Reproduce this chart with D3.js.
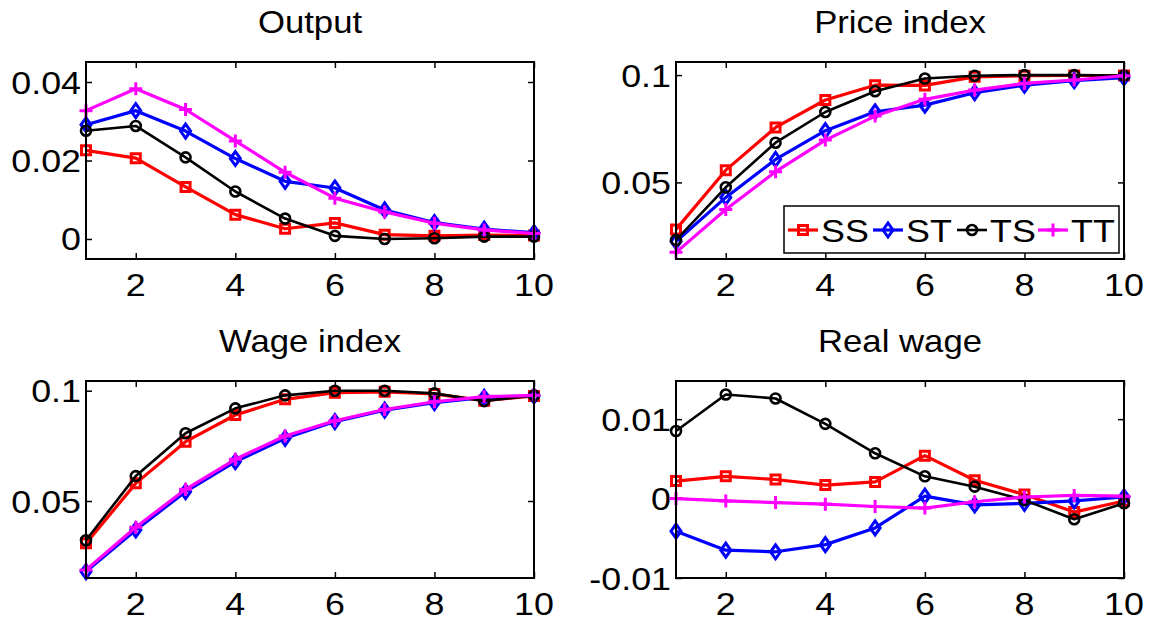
<!DOCTYPE html>
<html>
<head>
<meta charset="utf-8">
<script src="https://cdn.jsdelivr.net/npm/d3@7"></script>
<style>
  html, body { margin: 0; padding: 0; background: #fff; }
  svg { display: block; }
  text { font-family: "Liberation Sans", Arial, sans-serif; fill: #000; }
</style>
</head>
<body>
<svg id="chart" width="1155" height="621"></svg>
<script>
// ---------------- data ----------------
const steps = [1, 2, 3, 4, 5, 6, 7, 8, 9, 10];
const seriesNames = ["SS", "ST", "TS", "TT"];
const xTicks = [2, 4, 6, 8, 10];

const outputSS = [0.0226, 0.0206, 0.01325, 0.0062, 0.0026, 0.0041, 0.0011, 0.0008, 0.0010, 0.0009];
const outputST = [0.0291, 0.0327, 0.0275, 0.0205, 0.0147, 0.0130, 0.0074, 0.0042, 0.0025, 0.0016];
const outputTS = [0.0276, 0.0288, 0.0208, 0.0121, 0.0052, 0.0008, 0.0000, 0.0002, 0.0006, 0.0006];
const outputTT = [0.0327, 0.0383, 0.0330, 0.0250, 0.0170, 0.0104, 0.0069, 0.0040, 0.0023, 0.0014];
const outputTicks = [0, 0.02, 0.04];
const outputTickLabels = ["0", "0.02", "0.04"];

const priceSS = [0.0281, 0.0557, 0.0756, 0.0884, 0.0953, 0.0952, 0.0992, 0.0997, 0.0998, 0.0998];
const priceST = [0.0224, 0.0430, 0.0607, 0.0741, 0.0829, 0.0860, 0.0918, 0.0953, 0.0974, 0.0988];
const priceTS = [0.0231, 0.0477, 0.0685, 0.0828, 0.0925, 0.0984, 0.0997, 0.1000, 0.1000, 0.0998];
const priceTT = [0.0174, 0.0374, 0.0550, 0.0697, 0.0809, 0.0887, 0.0930, 0.0961, 0.0977, 0.0997];
const priceTicks = [0.05, 0.1];
const priceTickLabels = ["0.05", "0.1"];

const wageSS = [0.0308, 0.0580, 0.0769, 0.0890, 0.0961, 0.0991, 0.0995, 0.0985, 0.0955, 0.0976];
const wageST = [0.0180, 0.0369, 0.0542, 0.0678, 0.0784, 0.0860, 0.0912, 0.0946, 0.0970, 0.0976];
const wageTS = [0.0322, 0.0613, 0.0807, 0.0920, 0.0979, 0.1000, 0.1000, 0.0988, 0.0953, 0.0979];
const wageTT = [0.0187, 0.0381, 0.0553, 0.0689, 0.0795, 0.0864, 0.0915, 0.0950, 0.0973, 0.0979];
const wageTicks = [0.05, 0.1];
const wageTickLabels = ["0.05", "0.1"];

const realSS = [0.0022, 0.0028, 0.0024, 0.0017, 0.0021, 0.0054, 0.0023, 0.0005, -0.0017, -0.0003];
const realST = [-0.0041, -0.0065, -0.0067, -0.0058, -0.0037, 0.0003, -0.0008, -0.0006, -0.0003, 0.0002];
const realTS = [0.0085, 0.0131, 0.0126, 0.0094, 0.0057, 0.0028, 0.0015, -0.0002, -0.0026, -0.0006];
const realTT = [0.0000, -0.0003, -0.0005, -0.0007, -0.0010, -0.0012, -0.0004, 0.0002, 0.0004, 0.0003];
const realTicks = [-0.01, 0, 0.01];
const realTickLabels = ["-0.01", "0", "0.01"];

// ---------------- styling / layout ----------------
const colors = { SS: "#ff0000", ST: "#0000ff", TS: "#000000", TT: "#ff00ff" };
const widths = { SS: 3.2, ST: 3.2, TS: 2.6, TT: 3.2 };
const TX = 1.12; // horizontal text stretch of the original figure

const panels = [
  { title: "Output",      series: [outputSS, outputST, outputTS, outputTT], domain: [-0.0051, 0.0451], ticks: outputTicks, labels: outputTickLabels, box: [86, 62, 534, 259] },
  { title: "Price index", series: [priceSS, priceST, priceTS, priceTT],     domain: [0.0143, 0.1061],  ticks: priceTicks,  labels: priceTickLabels,  box: [676, 62, 1124, 259], legend: true },
  { title: "Wage index",  series: [wageSS, wageST, wageTS, wageTT],         domain: [0.0151, 0.1044],  ticks: wageTicks,   labels: wageTickLabels,   box: [86, 381, 534, 578] },
  { title: "Real wage",   series: [realSS, realST, realTS, realTT],         domain: [-0.0100, 0.0148], ticks: realTicks,   labels: realTickLabels,   box: [676, 381, 1124, 578] }
];

const svg = d3.select("#chart");

function stretchedText(g, x, y, str, anchor, size) {
  return g.append("text")
    .attr("transform", `translate(${x},${y}) scale(${TX},1)`)
    .attr("text-anchor", anchor)
    .style("font-size", size + "px")
    .text(str);
}

function markerPath(name) {
  if (name === "SS") return "M-4.5,-4.5H4.5V4.5H-4.5Z";
  if (name === "ST") return "M0,-7L5,0L0,7L-5,0Z";
  if (name === "TS") return d3.symbol(d3.symbolCircle, Math.PI * 5 * 5)();
  return "M-6.5,0H6.5M0,-6.5V6.5";
}

panels.forEach(p => {
  const [x0, y0, x1, y1] = p.box;
  const x = d3.scaleLinear().domain([1, 10]).range([x0, x1]);
  const y = d3.scaleLinear().domain(p.domain).range([y1, y0]);
  const g = svg.append("g");

  // title
  stretchedText(g, (x0 + x1) / 2, y0 - 29, p.title, "middle", 31);

  // axes (bottom/left with labels, top/right mirrored ticks)
  const tickLen = 6;
  const bottom = d3.axisBottom(x).tickValues(xTicks).tickSize(-tickLen).tickFormat("");
  const top = d3.axisTop(x).tickValues(xTicks).tickSize(-tickLen).tickFormat("");
  const left = d3.axisLeft(y).tickValues(p.ticks).tickSize(-tickLen).tickFormat("");
  const right = d3.axisRight(y).tickValues(p.ticks).tickSize(-tickLen).tickFormat("");
  [[bottom, `translate(0,${y1})`], [top, `translate(0,${y0})`], [left, `translate(${x0},0)`], [right, `translate(${x1},0)`]]
    .forEach(([ax, tr]) => {
      const a = g.append("g").attr("transform", tr).call(ax);
      a.select(".domain").remove();
      a.selectAll(".tick line").attr("stroke", "#000").attr("stroke-width", 1.5);
    });

  // tick labels
  xTicks.forEach(v => stretchedText(g, x(v), y1 + 37, String(v), "middle", 32));
  p.ticks.forEach((v, i) => stretchedText(g, x0 - 5, y(v) + 11.5, p.labels[i], "end", 32));

  // series
  const line = d3.line().x((d, i) => x(steps[i])).y(d => y(d));
  p.series.forEach((vals, si) => {
    const name = seriesNames[si];
    g.append("path")
      .attr("d", line(vals))
      .attr("fill", "none")
      .attr("stroke", colors[name])
      .attr("stroke-width", widths[name])
      .attr("stroke-linejoin", "round");
    g.selectAll(null).data(vals).enter().append("path")
      .attr("transform", (d, i) => `translate(${x(steps[i])},${y(d)})`)
      .attr("d", markerPath(name))
      .attr("fill", "none")
      .attr("stroke", colors[name])
      .attr("stroke-width", name === "TS" ? 2.6 : 3);
  });

  // box
  g.append("rect")
    .attr("x", x0).attr("y", y0)
    .attr("width", x1 - x0).attr("height", y1 - y0)
    .attr("fill", "none").attr("stroke", "#000").attr("stroke-width", 2);

  // legend
  if (p.legend) {
    const lg = g.append("g");
    lg.append("rect")
      .attr("x", 784).attr("y", 206).attr("width", 335).attr("height", 47)
      .attr("fill", "#fff").attr("stroke", "#000").attr("stroke-width", 1.5);
    const entryX = [788, 873, 957, 1038];
    seriesNames.forEach((name, i) => {
      const lx = entryX[i], ly = 230;
      lg.append("line").attr("x1", lx).attr("x2", lx + 30).attr("y1", ly).attr("y2", ly)
        .attr("stroke", colors[name]).attr("stroke-width", widths[name]);
      lg.append("path").attr("transform", `translate(${lx + 15},${ly})`)
        .attr("d", markerPath(name)).attr("fill", "none")
        .attr("stroke", colors[name]).attr("stroke-width", name === "TS" ? 2.6 : 3);
      stretchedText(lg, lx + 33, ly + 12, name, "start", 32);
    });
  }
});
</script>
</body>
</html>
